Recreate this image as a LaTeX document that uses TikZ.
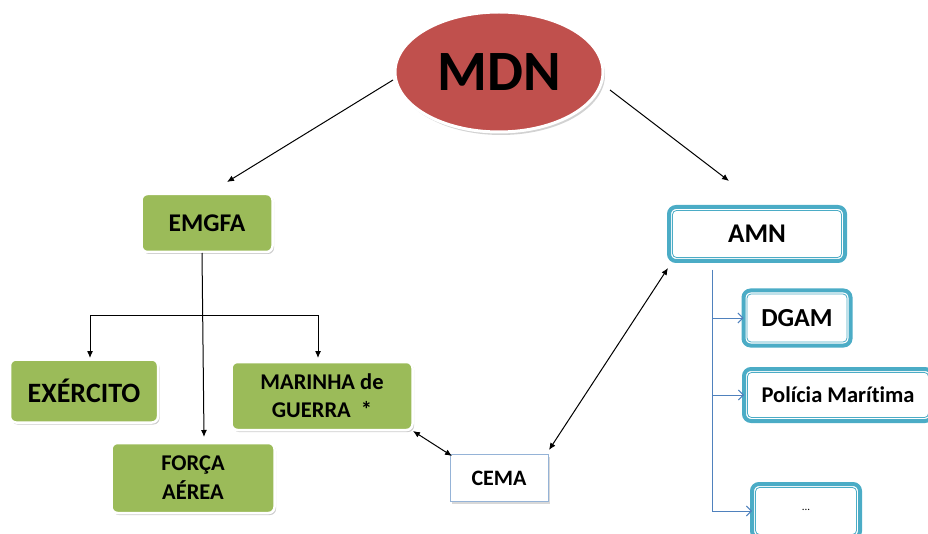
\documentclass[tikz,border=0pt]{standalone}
\usepackage{fontspec}
\setmainfont{Carlito}[Ligatures={NoCommon}]
\usetikzlibrary{shapes.geometric,shadows,arrows.meta}
\definecolor{redm}{HTML}{C0504D}
\definecolor{grn}{HTML}{9BBB59}
\definecolor{cyb}{HTML}{4BACC6}
\definecolor{trb}{HTML}{4F81BD}
\definecolor{lbl}{HTML}{95B3D7}
\newcommand\fs[2]{\fontsize{#1}{#2}\selectfont}
\begin{document}
\begin{tikzpicture}[x=1pt,y=-1pt,
  greenbox/.style={fill=grn, draw=white, line width=2.5pt, rounded corners=6pt,
    drop shadow={shadow xshift=1.5pt, shadow yshift=-2pt, fill=black!40},
    font=\bfseries, align=center, inner sep=0pt, outer sep=0pt},
  cybox/.style={fill=white, draw=cyb, line width=4pt, rounded corners=7pt,
    font=\bfseries, inner sep=0pt, outer sep=0pt},
  innerline/.style={draw=cyb, line width=0.8pt, rounded corners=4pt},
  arr/.style={-{Latex[length=7pt,width=6pt]}, line width=1pt},
  darr/.style={{Latex[length=7pt,width=6pt]}-{Latex[length=7pt,width=6pt]}, line width=1pt},
  plain/.style={line width=1pt},
  tarr/.style={draw=trb, line width=0.9pt, -{Straight Barb[length=5pt,width=10pt]}},
  tline/.style={draw=trb, line width=0.9pt}]
\useasboundingbox (0,0) rectangle (928,534);

% MDN
\node[ellipse, fill=redm, draw=white, line width=3pt, minimum width=208pt, minimum height=120pt,
  drop shadow={shadow xshift=2pt, shadow yshift=-3pt, fill=black!35},
  font=\bfseries\fs{57}{57}] (mdn) at (499,72) {MDN};

% green boxes
\node[greenbox, minimum width=131pt, minimum height=58pt, font=\bfseries\fs{25.5}{28}] (emgfa) at (207,223) {EMGFA};
\node[greenbox, minimum width=148pt, minimum height=63pt, font=\bfseries\fs{28}{32}] (exer) at (84,391) {EXÉRCITO};
\node[greenbox, minimum width=181pt, minimum height=68pt, font=\bfseries\fs{22.5}{28}] (mar) at (322,396) {MARINHA de\\GUERRA\ \ *};
\node[greenbox, minimum width=163pt, minimum height=70pt, font=\bfseries\fs{22.5}{29}] (forca) at (193,478) {FORÇA\\AÉREA};

% CEMA
\node[fill=white, draw=lbl, line width=1pt, minimum width=98pt, minimum height=47pt,
  drop shadow={shadow xshift=2pt, shadow yshift=-2pt, fill=black!30},
  font=\bfseries\fs{22}{26}, inner sep=0pt] (cema) at (499,478) {CEMA};

% cyan boxes
\node[cybox, minimum width=176pt, minimum height=54pt, font=\bfseries\fs{27}{30}] (amn) at (757,234) {AMN};
\node[cybox, minimum width=107pt, minimum height=55pt, font=\bfseries\fs{26}{30}] (dgam) at (797,318) {DGAM};
\node[cybox, minimum width=188pt, minimum height=52pt, font=\bfseries\fs{22.5}{26}] (pol) at (838,395) {Polícia Marítima};
\node[cybox, minimum width=108pt, minimum height=54pt, font=\fs{11}{12}] (dots) at (806,511) {};
\node[font=\fs{11}{12}] (dotstxt) at (806,510) {...};
\foreach \n in {amn,dgam,pol,dots}{
  \draw[innerline] ([shift={(3.5pt,-3.5pt)}]\n.north west) rectangle ([shift={(-3.5pt,3.5pt)}]\n.south east);
}

% tree lines
\coordinate (t0) at (712,270);
\coordinate (t1) at (712,318);
\coordinate (t2) at (712,395);
\draw[tline] (t0) -- (t1);
\draw[tarr] (t1) -- (dgam.west);
\draw[tarr] (t2) -- (pol.west);
\draw[tarr] (t0) |- (dots.west);

% black connectors
\coordinate (m1) at (393,80);
\coordinate (e1) at (227,182);
\coordinate (m2) at (610,90);
\coordinate (a1) at (729,181);
\draw[arr] (m1) -- (e1);
\draw[arr] (m2) -- (a1);

\coordinate (f0) at (202,253);
\coordinate (f1) at (204,437);
\draw[arr] (f0) -- (f1);

\coordinate (b0) at (90,315);
\coordinate (b1) at (318,315);
\coordinate (bx) at (90,358);
\coordinate (bm) at (318,358);
\draw[plain] (b0) -- (b1);
\draw[arr] (b0) -- (bx);
\draw[arr] (b1) -- (bm);

\coordinate (c0) at (413,431);
\coordinate (c1) at (452,456);
\draw[darr] (c0) -- (c1);
\coordinate (c2) at (549,450);
\coordinate (c3) at (668,268);
\draw[darr] (c2) -- (c3);
\end{tikzpicture}
\end{document}
